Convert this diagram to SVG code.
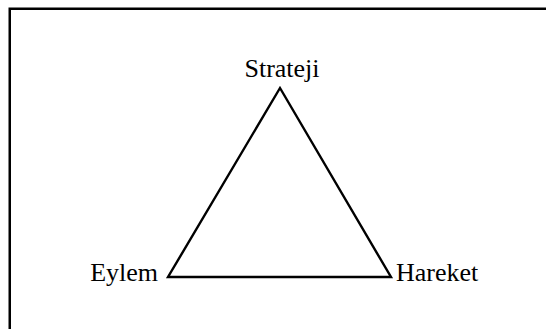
<svg xmlns="http://www.w3.org/2000/svg" width="546" height="329" viewBox="0 0 546 329">
<style>
.lbl{font-family:"Liberation Serif","Times New Roman",serif;font-size:26px;fill:#000}
.edge{stroke:#000;stroke-width:2.4;fill:none;stroke-linejoin:miter;stroke-miterlimit:10}
</style>
<rect x="0" y="0" width="546" height="329" fill="#fff"/>
<rect x="9.75" y="8.75" width="560" height="340" fill="none" stroke="#000" stroke-width="2.5"/>
<g id="connectors">
<path class="edge" d="M280 88 L391 277 L168 277 Z"/>
</g>
<g id="strateji"><text class="lbl" x="282" y="77" text-anchor="middle">Strateji</text></g>
<g id="eylem"><text class="lbl" x="158" y="281" text-anchor="end">Eylem</text></g>
<g id="hareket"><text class="lbl" x="396" y="281">Hareket</text></g>
</svg>
